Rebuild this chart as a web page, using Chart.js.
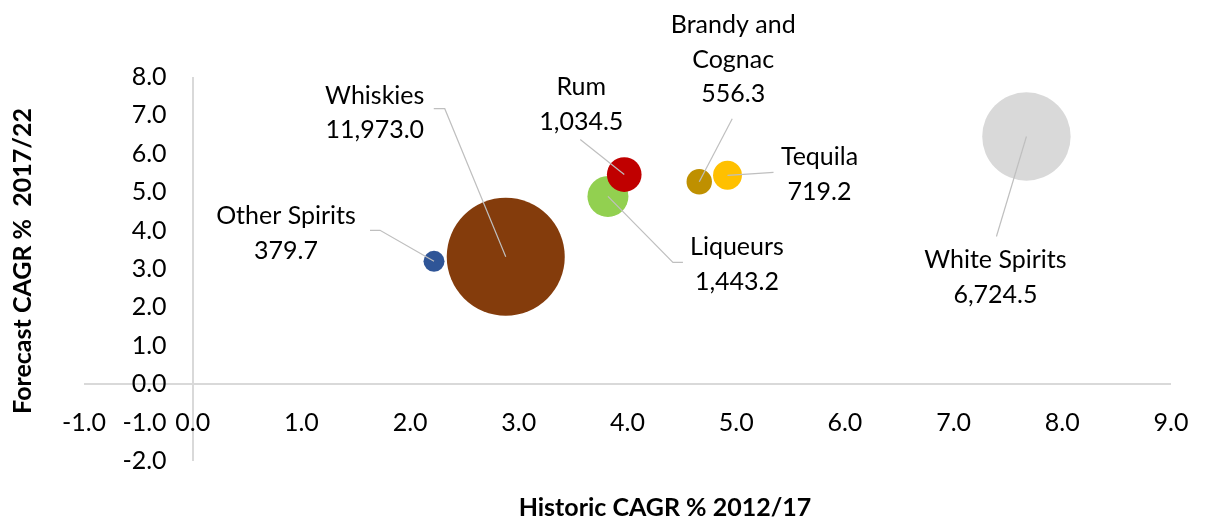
<!DOCTYPE html>
<html>
<head>
<meta charset="utf-8">
<script src="https://cdn.jsdelivr.net/npm/chart.js@4"></script>
<style>
  html, body { margin: 0; padding: 0; background: #fff; }
</style>
</head>
<body>
<canvas id="bubbleChart" width="1230" height="520"></canvas>
<script>
// Spirits categories, CAGR (%) and market size (bubble size)
const categories = ['Other Spirits', 'Whiskies', 'Liqueurs', 'Rum', 'Brandy and Cognac', 'Tequila', 'White Spirits'];
const historicCagr = [2.22, 2.88, 3.82, 3.97, 4.66, 4.92, 7.67];
const forecastCagr = [3.20, 3.32, 4.89, 5.46, 5.27, 5.44, 6.45];
const marketSize = [379.7, 11973.0, 1443.2, 1034.5, 556.3, 719.2, 6724.5];

const bubbleColors = ['#2f5597', '#843c0c', '#92d050', '#c00000', '#bf9000', '#ffc000', '#d9d9d9'];

const FONT = 'Lato, "Liberation Sans", sans-serif';
const maxRadius = 59;
const maxSize = Math.max(...marketSize);

// label block position and leader line points, relative to bubble centre (px)
const labelLayout = [
    { dx: -148, dy: -28,  lead: [[-64, -31], [-54, -31]] },
    { dx: -131, dy: -144, lead: [[-72, -148], [-61, -148]] },
    { dx: 129,  dy: 68,   lead: [[75, 66], [65, 66]] },
    { dx: -43,  dy: -70,  lead: [[-44, -35]] },
    { dx: 34,   dy: -122, lead: [[33, -63]] },
    { dx: 92,   dy: -1,   lead: [[46, -3], [16, -1]] },
    { dx: -31,  dy: 141,  lead: [[-30, 100]] }
];

function wrapText(ctx, text, maxWidth) {
    const words = text.split(' ');
    const lines = [];
    let line = '';
    words.forEach(w => {
        const test = line ? line + ' ' + w : w;
        if (line && ctx.measureText(test).width > maxWidth) {
            lines.push(line);
            line = w;
        } else {
            line = test;
        }
    });
    if (line) lines.push(line);
    return lines;
}

const bubbleLabels = {
    id: 'bubbleLabels',
    afterDatasetsDraw(chart) {
        const ctx = chart.ctx;
        const meta = chart.getDatasetMeta(0);
        ctx.save();
        ctx.font = '25px ' + FONT;
        ctx.textAlign = 'center';
        ctx.textBaseline = 'middle';
        meta.data.forEach((pt, i) => {
            const spot = labelLayout[i];
            // leader line
            ctx.strokeStyle = '#bfbfbf';
            ctx.lineWidth = 1.2;
            ctx.beginPath();
            ctx.moveTo(pt.x + spot.lead[0][0], pt.y + spot.lead[0][1]);
            spot.lead.slice(1).forEach(p => ctx.lineTo(pt.x + p[0], pt.y + p[1]));
            ctx.lineTo(pt.x, pt.y);
            ctx.stroke();

            const lines = wrapText(ctx, categories[i], 150);
            lines.push(marketSize[i].toLocaleString('en-US', { minimumFractionDigits: 1, maximumFractionDigits: 1 }));
            const lh = 34.5;
            const top = pt.y + spot.dy - (lines.length - 1) * lh / 2;
            ctx.fillStyle = '#000';
            lines.forEach((l, k) => ctx.fillText(l, pt.x + spot.dx, top + k * lh));
        });
        ctx.restore();
    },
    afterDraw(chart) {
        const ctx = chart.ctx;
        const area = chart.chartArea;
        ctx.save();
        ctx.fillStyle = '#000';
        ctx.font = 'bold 25px ' + FONT;
        ctx.textAlign = 'center';
        ctx.textBaseline = 'middle';
        ctx.fillText('Historic CAGR % 2012/17', 665, 508);
        ctx.translate(23, (area.top + area.bottom) / 2 - 8);
        ctx.rotate(-Math.PI / 2);
        ctx.fillText('Forecast CAGR %  2017/22', 0, 0);
        ctx.restore();
    }
};

const zeroLine = ctx => (ctx.tick && ctx.tick.value === 0) ? '#d9d9d9' : 'rgba(0,0,0,0)';

new Chart(document.getElementById('bubbleChart'), {
    type: 'bubble',
    data: {
        datasets: [{
            data: categories.map((c, i) => ({
                x: historicCagr[i],
                y: forecastCagr[i],
                r: maxRadius * Math.sqrt(marketSize[i] / maxSize)
            })),
            backgroundColor: bubbleColors,
            borderWidth: 0,
            hoverRadius: 0,
            clip: false
        }]
    },
    options: {
        responsive: false,
        animation: false,
        events: [],
        layout: { padding: { left: 84, right: 20, top: 77, bottom: 55 } },
        plugins: { legend: { display: false }, tooltip: { enabled: false } },
        scales: {
            x: {
                type: 'linear',
                min: -1,
                max: 9,
                position: { y: 0 },
                border: { display: false },
                grid: { drawTicks: false, color: zeroLine, lineWidth: 2 },
                ticks: {
                    stepSize: 1,
                    autoSkip: false,
                    maxRotation: 0,
                    padding: 24,
                    color: '#000',
                    font: { family: FONT, size: 25 },
                    callback: v => v.toFixed(1)
                }
            },
            y: {
                type: 'linear',
                min: -2,
                max: 8,
                position: { x: -0.24 },
                border: { display: false },
                grid: { drawTicks: false, color: zeroLine, lineWidth: 2 },
                ticks: {
                    stepSize: 1,
                    autoSkip: false,
                    padding: 0,
                    color: '#000',
                    font: { family: FONT, size: 25 },
                    callback: v => v.toFixed(1)
                }
            }
        }
    },
    plugins: [bubbleLabels]
});
</script>
</body>
</html>
